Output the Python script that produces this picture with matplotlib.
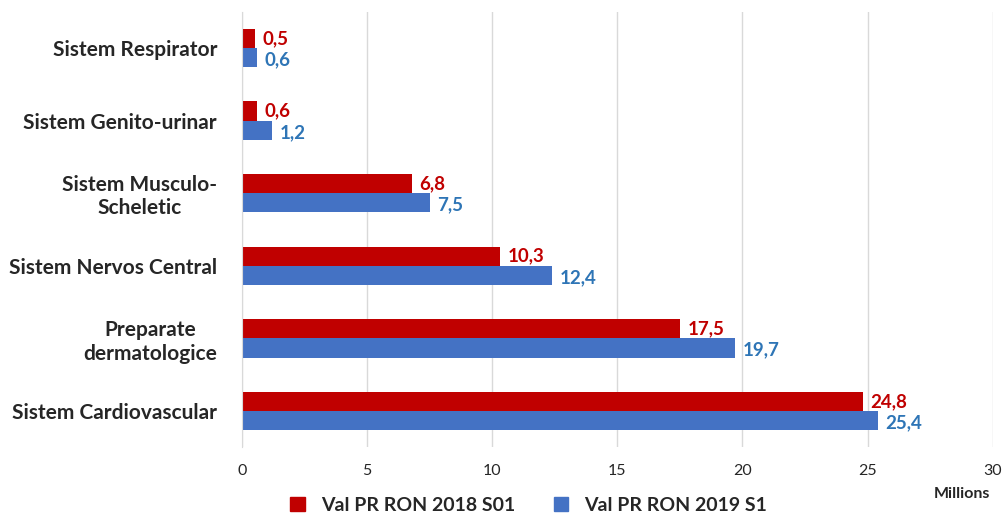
import numpy as np
import matplotlib.pyplot as plt
from matplotlib.patches import Patch

plt.rcParams['font.family'] = ['Lato', 'DejaVu Sans']
plt.rcParams['font.weight'] = 'bold'

categories = ['Sistem Cardiovascular', 'Preparate\ndermatologice', 'Sistem Nervos Central',
              'Sistem Musculo-\nScheletic', 'Sistem Genito-urinar', 'Sistem Respirator']
val_2018 = [24.8, 17.5, 10.3, 6.8, 0.6, 0.5]
val_2019 = [25.4, 19.7, 12.4, 7.5, 1.2, 0.6]
labels_2018 = ['24,8', '17,5', '10,3', '6,8', '0,6', '0,5']
labels_2019 = ['25,4', '19,7', '12,4', '7,5', '1,2', '0,6']

red = '#C00000'
blue = '#4472C4'
blue_txt = '#2E75B6'
dark = '#262626'

fig = plt.figure(figsize=(10.05, 5.14), dpi=100)
ax = fig.add_axes([0.2408, 0.130, 0.747, 0.847])

y = np.arange(len(categories))
h = 0.265
ax.barh(y + h / 2, val_2018, height=h, color=red)
ax.barh(y - h / 2, val_2019, height=h, color=blue)

# data labels next to the bars
for yi, v, s in zip(y, val_2018, labels_2018):
    ax.text(v + 0.3, yi + h / 2, s, color=red, fontsize=13.5, fontweight='bold',
            va='center', ha='left')
for yi, v, s in zip(y, val_2019, labels_2019):
    ax.text(v + 0.3, yi - h / 2 - 0.03, s, color=blue_txt, fontsize=13.5, fontweight='bold',
            va='center', ha='left')

ax.set_xlim(0, 30)
ax.set_ylim(-0.5, len(categories) - 0.5)
ax.set_xticks(np.arange(0, 31, 5))
ax.set_xticklabels([str(t) for t in range(0, 31, 5)], fontweight='normal')
ax.set_yticks(y)
ax.set_yticklabels(categories, fontsize=15, fontweight='bold', color=dark,
                   ha='right', multialignment='center')
ax.tick_params(axis='y', length=0, pad=18)
ax.tick_params(axis='x', length=0, pad=12, labelsize=11.5, labelcolor=dark)
ax.grid(axis='x', color='#D9D9D9', linewidth=1)
ax.set_axisbelow(True)
for sp in ['top', 'right', 'bottom']:
    ax.spines[sp].set_visible(False)
ax.spines['left'].set_color('#D9D9D9')

fig.text(0.985, 0.039, 'Millions', ha='right', va='center', fontsize=11.5,
         fontweight='bold', color=dark)

handles = [Patch(color=red), Patch(color=blue)]
fig.legend(handles, ['Val PR RON 2018 S01', 'Val PR RON 2019 S1'], loc='center',
           bbox_to_anchor=(0.526, 0.017), ncol=2, frameon=False, fontsize=14,
           handlelength=0.75, handleheight=0.75, columnspacing=2.0, handletextpad=0.8,
           labelcolor=dark)

fig.savefig('out.png', dpi=100)
